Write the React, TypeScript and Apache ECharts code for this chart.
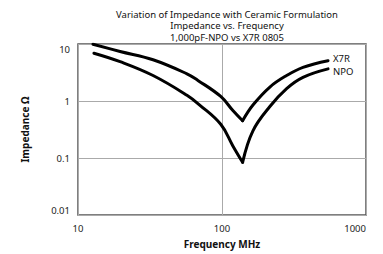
import React, { useEffect, useRef } from "react";
import * as echarts from "echarts";

const titleLines = [
  "Variation of Impedance with Ceramic Formulation",
  "Impedance vs. Frequency",
  "1,000pF-NPO vs X7R 0805",
];

const x7rFreq = [12.7, 19.6, 33.2, 57.1, 68, 98, 119, 139, 164, 215, 281, 365, 545];
const x7rImp = [9.9, 7.4, 5.3, 3.0, 2.3, 1.2, 0.68, 0.45, 0.85, 1.76, 2.8, 3.9, 5.1];

const npoFreq = [12.9, 19.6, 33.2, 57.1, 70, 98, 119, 139, 164, 215, 281, 365, 545];
const npoImp = [6.9, 4.9, 2.8, 1.26, 0.85, 0.39, 0.163, 0.084, 0.3, 0.8, 1.65, 2.6, 3.66];

const FONT = "'Noto Sans', 'Liberation Sans', sans-serif";

function branches(f: number[], v: number[]) {
  const pts = f.map((x, i) => [x, v[i]]);
  let m = 0;
  v.forEach((y, i) => {
    if (y < v[m]) m = i;
  });
  return { left: pts.slice(0, m + 1), right: pts.slice(m) };
}

export default function App() {
  const ref = useRef<HTMLDivElement>(null);
  useEffect(() => {
    if (!ref.current) return;
    const chart = echarts.init(ref.current, null, { renderer: "svg" });
    const x7r = branches(x7rFreq, x7rImp);
    const npo = branches(npoFreq, npoImp);
    const line = { color: "#000", width: 3, cap: "round", join: "miter" };
    const base = { type: "line", smooth: 0.4, showSymbol: false, lineStyle: line };
    const endLbl = (txt: string, dy: number) => ({
      show: true,
      formatter: txt,
      distance: 5,
      offset: [0, dy],
      fontFamily: FONT,
      fontSize: 9.5,
      color: "#111",
    });
    chart.setOption({
      animation: false,
      backgroundColor: "#fff",
      grid: {
        left: 78,
        right: 17,
        top: 44,
        bottom: 36,
        show: true,
        borderColor: "#555",
        borderWidth: 1.5,
        backgroundColor: "transparent",
      },
      graphic: titleLines.map((t, i) => ({
        type: "text",
        x: 227,
        y: 14 + i * 11.5,
        style: {
          text: t,
          textAlign: "center",
          textVerticalAlign: "middle",
          font: `9.5px ${FONT}`,
          fill: "#111",
        },
      })),
      xAxis: {
        type: "log",
        logBase: 10,
        min: 10,
        max: 1000,
        name: "Frequency MHz",
        nameLocation: "middle",
        nameGap: 24,
        nameTextStyle: { fontFamily: FONT, fontWeight: "bold", fontSize: 10, color: "#111" },
        axisLine: { show: false },
        axisTick: { show: false },
        axisLabel: {
          margin: 8,
          fontFamily: FONT,
          fontSize: 9.5,
          color: "#222",
          alignMaxLabel: "right",
          formatter: (v: number) => String(v),
        },
        splitLine: { show: true, lineStyle: { color: "#aaa", width: 1 } },
      },
      yAxis: {
        type: "log",
        logBase: 10,
        min: 0.01,
        max: 10,
        name: "Impedance Ω",
        nameLocation: "middle",
        nameGap: 48,
        nameRotate: 90,
        nameTextStyle: { fontFamily: FONT, fontWeight: "bold", fontSize: 10, color: "#111" },
        axisLine: { show: false },
        axisTick: { show: false },
        axisLabel: {
          margin: 8,
          fontFamily: FONT,
          fontSize: 9.5,
          color: "#222",
          verticalAlignMinLabel: "bottom",
          verticalAlignMaxLabel: "top",
          formatter: (v: number) => String(v),
        },
        splitLine: { show: true, lineStyle: { color: "#aaa", width: 1 } },
      },
      series: [
        { ...base, name: "X7R", data: x7r.left },
        { ...base, name: "X7R", data: x7r.right, endLabel: endLbl("X7R", -2) },
        { ...base, name: "NPO", data: npo.left },
        { ...base, name: "NPO", data: npo.right, endLabel: endLbl("NPO", 3) },
      ],
    });
    return () => chart.dispose();
  }, []);
  return (
    <div
      ref={ref}
      style={{ position: "fixed", left: 0, top: 0, width: 383, height: 254 }}
    />
  );
}
